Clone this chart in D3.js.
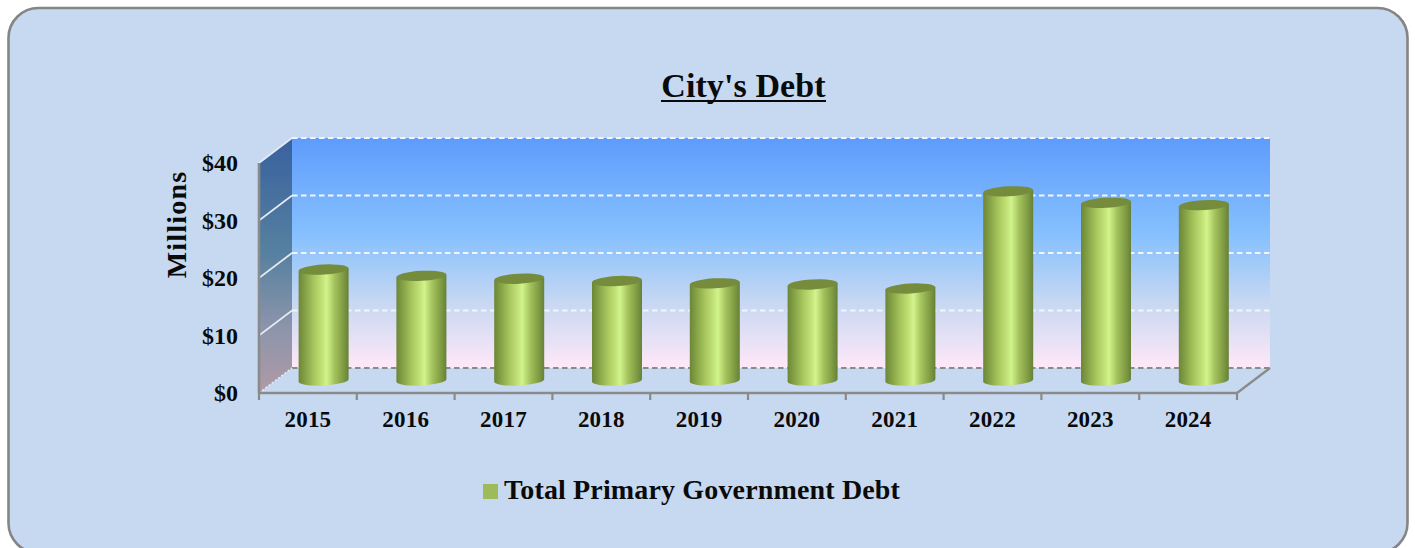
<!DOCTYPE html>
<html>
<head>
<meta charset="utf-8">
<script src="https://cdn.jsdelivr.net/npm/d3@7"></script>
<style>
  html, body { margin: 0; padding: 0; background: #fff; overflow: hidden; }
  text { font-family: "Liberation Serif", serif; font-weight: bold; fill: #0a0a0a; }
  .domain { display: none; }
</style>
</head>
<body>
<div id="chart"></div>
<script>
const years = ["2015", "2016", "2017", "2018", "2019", "2020", "2021", "2022", "2023", "2024"];
const debt = [19.3, 18.2, 17.7, 17.3, 16.9, 16.7, 16.0, 32.9, 30.9, 30.5];
const yTicks = [0, 10, 20, 30, 40];
const seriesName = "Total Primary Government Debt";
const chartTitle = "City's Debt";
const yTitle = "Millions";

const width = 1415, height = 548;
const front = {left: 259, right: 1237, top: 163, bottom: 393};
const depth = {dx: 33, dy: -25};

const svg = d3.select("#chart").append("svg")
    .attr("width", width)
    .attr("height", height)
    .style("display", "block");

const defs = svg.append("defs");

function gradient(id, x2, y2, stops) {
    const g = defs.append("linearGradient").attr("id", id)
        .attr("x1", 0).attr("y1", 0).attr("x2", x2).attr("y2", y2);
    stops.forEach(s => g.append("stop").attr("offset", s[0]).attr("stop-color", s[1]));
}
gradient("wallBack", 0, 1, [[0, "#5e9cfc"], [0.42, "#86c0fe"], [0.72, "#c8d8f2"], [1, "#ffe8f8"]]);
gradient("wallSide", 0, 1, [[0, "#38619f"], [0.45, "#56809f"], [0.75, "#8d95ab"], [1, "#b09aa6"]]);
gradient("cyl", 1, 0, [[0, "#6c8638"], [0.1, "#7f9b42"], [0.3, "#a6c55c"], [0.48, "#c4e47a"], [0.56, "#d2f48c"], [0.72, "#a4c25c"], [0.9, "#7d9a42"], [1, "#67803a"]]);

// the source is a slightly soft screenshot
defs.append("filter").attr("id", "soft")
    .append("feGaussianBlur").attr("stdDeviation", 0.45);

const x = d3.scaleBand().domain(years).range([front.left, front.right]);
const y = d3.scaleLinear().domain([0, 40]).range([front.bottom, front.top]);

// panel
svg.append("rect")
    .attr("x", 8.5).attr("y", 8)
    .attr("width", 1399).attr("height", 545)
    .attr("rx", 30).attr("ry", 30)
    .attr("fill", "#c6d9f1")
    .attr("stroke", "#858585")
    .attr("stroke-width", 2.6);

const plot = svg.append("g").attr("filter", "url(#soft)");

// walls
plot.append("rect")
    .attr("x", front.left + depth.dx)
    .attr("y", front.top + depth.dy)
    .attr("width", front.right - front.left)
    .attr("height", front.bottom - front.top)
    .attr("fill", "url(#wallBack)");

plot.append("path")
    .attr("d", d3.line()([
        [front.left, front.top],
        [front.left + depth.dx, front.top + depth.dy],
        [front.left + depth.dx, front.bottom + depth.dy],
        [front.left, front.bottom]
    ]) + "Z")
    .attr("fill", "url(#wallSide)");

// gridlines, back wall and side wall
const grid = plot.append("g").selectAll("g").data(yTicks).join("g");
grid.append("line")
    .attr("x1", front.left + depth.dx)
    .attr("x2", front.right + depth.dx)
    .attr("y1", d => y(d) + depth.dy)
    .attr("y2", d => y(d) + depth.dy)
    .attr("stroke", d => d === 0 ? "#8a8a8a" : "#f2f5fa")
    .attr("stroke-width", 2.2)
    .attr("stroke-dasharray", "5.5 3.5");
grid.append("line")
    .attr("x1", front.left)
    .attr("x2", front.left + depth.dx)
    .attr("y1", d => y(d))
    .attr("y2", d => y(d) + depth.dy)
    .attr("stroke", "#e6ebf3")
    .attr("stroke-width", 1.6)
    .attr("stroke-dasharray", d => d === 0 ? "2 2" : null);

// floor edges and front axis lines
plot.append("line")
    .attr("x1", front.right).attr("y1", front.bottom)
    .attr("x2", front.right + depth.dx).attr("y2", front.bottom + depth.dy)
    .attr("stroke", "#8a8a8a").attr("stroke-width", 2.2);
plot.append("line")
    .attr("x1", front.left).attr("y1", front.top)
    .attr("x2", front.left).attr("y2", front.bottom)
    .attr("stroke", "#8a8a8a").attr("stroke-width", 2.6);
plot.append("line")
    .attr("x1", front.left - 1).attr("y1", front.bottom)
    .attr("x2", front.right + 1).attr("y2", front.bottom)
    .attr("stroke", "#8a8a8a").attr("stroke-width", 2.6);
plot.append("g").selectAll("line")
    .data(d3.range(years.length + 1))
    .join("line")
    .attr("x1", d => front.left + d * x.step())
    .attr("x2", d => front.left + d * x.step())
    .attr("y1", front.bottom)
    .attr("y2", front.bottom + 7)
    .attr("stroke", "#8a8a8a").attr("stroke-width", 2.2);

// cylinders sit half way into the depth
const barW = 50, rx = barW / 2, ry = 5, tilt = -3;
const cx = d => x(d) + x.bandwidth() / 2 + depth.dx / 2 - 0.8;
const py = v => y(v) + depth.dy / 2;

function cylinder(d, i) {
    const c = cx(d), top = py(debt[i]), base = py(0);
    const s = rx * Math.sin(tilt * Math.PI / 180);
    return `M${c - rx},${top - s}L${c + rx},${top + s}L${c + rx},${base + s}`
        + `A${rx},${ry} ${tilt} 0 1 ${c - rx},${base - s}Z`;
}

const bars = plot.append("g").selectAll("g").data(years).join("g");
bars.append("path")
    .attr("d", cylinder)
    .attr("fill", "url(#cyl)");
bars.append("ellipse")
    .attr("rx", rx).attr("ry", ry)
    .attr("transform", (d, i) => `translate(${cx(d)},${py(debt[i])}) rotate(${tilt})`)
    .attr("fill", "#748c3c");

// axes
const xAxis = svg.append("g")
    .attr("transform", `translate(0,${front.bottom})`)
    .call(d3.axisBottom(x).tickSize(0).tickPadding(18));
xAxis.selectAll("text")
    .style("font-size", "23px")
    .style("letter-spacing", "0.2px");

const yAxis = svg.append("g")
    .attr("transform", `translate(${front.left - 21},0)`)
    .call(d3.axisLeft(y).tickValues(yTicks).tickSize(0).tickPadding(0).tickFormat(d => "$" + d));
yAxis.selectAll("text")
    .style("font-size", "24px");

svg.append("text")
    .attr("transform", "translate(186,224.5) rotate(-90)")
    .attr("text-anchor", "middle")
    .style("font-size", "28px")
    .style("letter-spacing", "1.2px")
    .text(yTitle);

svg.append("text")
    .attr("x", 743.5).attr("y", 97)
    .attr("text-anchor", "middle")
    .style("font-size", "34px")
    .style("letter-spacing", "0.1px")
    .text(chartTitle);
svg.append("line")
    .attr("x1", 661).attr("x2", 826)
    .attr("y1", 101).attr("y2", 101)
    .attr("stroke", "#0a0a0a").attr("stroke-width", 2);

// legend
svg.append("rect")
    .attr("x", 483).attr("y", 484)
    .attr("width", 15).attr("height", 15)
    .attr("fill", "#9dbb59");
svg.append("text")
    .attr("x", 504).attr("y", 499)
    .style("font-size", "28px")
    .style("letter-spacing", "0.15px")
    .text(seriesName);
</script>
</body>
</html>
